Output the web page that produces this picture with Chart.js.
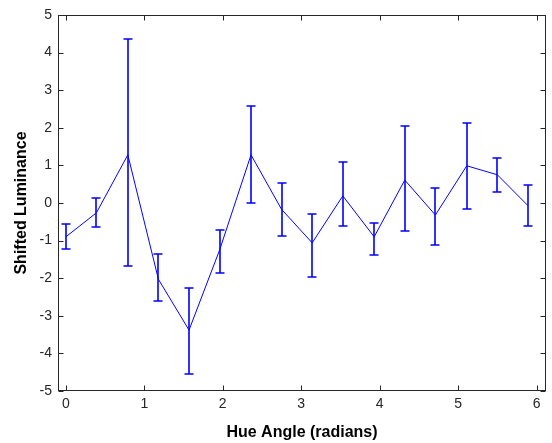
<!DOCTYPE html>
<html>
<head>
<meta charset="utf-8">
<script src="https://cdn.jsdelivr.net/npm/chart.js@4/dist/chart.umd.min.js"></script>
<style>
html,body{margin:0;padding:0;background:#fff;}
#wrap{width:552px;height:443px;}
</style>
</head>
<body>
<div id="wrap"><canvas id="c" width="552" height="443"></canvas></div>
<script>
// Data
const hueAngles = [0, 0.39, 0.79, 1.18, 1.57, 1.96, 2.36, 2.75, 3.14, 3.53, 3.93, 4.32, 4.71, 5.11, 5.50, 5.89];
const meanLum   = [-0.90, -0.26, 1.28, -2.03, -3.38, -1.25, 1.28, -0.17, -1.06, 0.19, -0.90, 0.61, -0.32, 0.99, 0.75, -0.07];
const upperLum  = [-0.56, 0.14, 4.37, -1.35, -2.26, -0.72, 2.58, 0.52, -0.30, 1.08, -0.52, 2.05, 0.41, 2.14, 1.21, 0.47];
const lowerLum  = [-1.23, -0.65, -1.67, -2.61, -4.55, -1.87, 0.01, -0.88, -1.96, -0.60, -1.38, -0.74, -1.11, -0.15, 0.29, -0.61];
const xTicks = [0, 1, 2, 3, 4, 5, 6];
const yTicks = [-5, -4, -3, -2, -1, 0, 1, 2, 3, 4, 5];

const points = hueAngles.map((x, i) => ({x: x, y: meanLum[i]}));

const errorBars = {
  id: 'errorBars',
  afterDatasetsDraw(chart) {
    const ctx = chart.ctx, xs = chart.scales.x, ys = chart.scales.y;
    ctx.save();
    ctx.strokeStyle = '#0000ff';
    ctx.lineWidth = 1.6;
    const cap = 4.5;
    hueAngles.forEach((x, i) => {
      const px = Math.round(xs.getPixelForValue(x));
      const pu = Math.round(ys.getPixelForValue(upperLum[i]));
      const pl = Math.round(ys.getPixelForValue(lowerLum[i]));
      ctx.beginPath();
      ctx.moveTo(px, pu); ctx.lineTo(px, pl);
      ctx.moveTo(px - cap, pu); ctx.lineTo(px + cap, pu);
      ctx.moveTo(px - cap, pl); ctx.lineTo(px + cap, pl);
      ctx.stroke();
    });
    ctx.restore();
  }
};

const frame = {
  id: 'frame',
  afterDraw(chart) {
    const ctx = chart.ctx, a = chart.chartArea, xs = chart.scales.x, ys = chart.scales.y;
    ctx.save();
    ctx.strokeStyle = '#262626';
    ctx.lineWidth = 1;
    const l = Math.round(a.left) + 0.5, r = Math.round(a.right) - 0.5;
    const t = Math.round(a.top) + 0.5, b = Math.round(a.bottom) - 0.5;
    ctx.strokeRect(l, t, r - l, b - t);
    const tl = 5;
    ctx.beginPath();
    xTicks.forEach(v => {
      const px = Math.round(xs.getPixelForValue(v)) + 0.5;
      ctx.moveTo(px, b); ctx.lineTo(px, b - tl);
      ctx.moveTo(px, t); ctx.lineTo(px, t + tl);
    });
    yTicks.forEach(v => {
      const py = Math.round(ys.getPixelForValue(v)) + 0.5;
      ctx.moveTo(l, py); ctx.lineTo(l + tl, py);
      ctx.moveTo(r, py); ctx.lineTo(r - tl, py);
    });
    ctx.stroke();
    ctx.restore();
  }
};

new Chart(document.getElementById('c'), {
  type: 'line',
  data: {
    datasets: [{
      data: points,
      borderColor: '#0000ff',
      borderWidth: 1,
      pointRadius: 0,
      tension: 0,
      fill: false
    }]
  },
  options: {
    responsive: false,
    animation: false,
    devicePixelRatio: 1,
    layout: {padding: {top: 15, right: 6, left: 0, bottom: 0}},
    plugins: {legend: {display: false}, tooltip: {enabled: false}},
    scales: {
      x: {
        type: 'linear',
        min: -0.1,
        max: 6.12,
        afterBuildTicks: s => { s.ticks = xTicks.map(v => ({value: v})); },
        afterFit: s => { s.height = 52; },
        grid: {display: false, drawTicks: false},
        border: {display: false},
        ticks: {color: '#262626', padding: 5, font: {family: 'Liberation Sans, Arial, sans-serif', size: 14}, maxRotation: 0},
        title: {display: true, text: 'Hue Angle (radians)', color: '#000', padding: {top: 2, bottom: 1},
          font: {family: 'Liberation Sans, Arial, sans-serif', size: 16, weight: 'bold'}}
      },
      y: {
        type: 'linear',
        min: -5,
        max: 5,
        afterBuildTicks: s => { s.ticks = yTicks.map(v => ({value: v})); },
        afterFit: s => { s.width = 58; },
        grid: {display: false, drawTicks: false},
        border: {display: false},
        ticks: {color: '#262626', padding: 6, font: {family: 'Liberation Sans, Arial, sans-serif', size: 14}},
        title: {display: true, text: 'Shifted Luminance', color: '#000', padding: {top: 12, bottom: 0},
          font: {family: 'Liberation Sans, Arial, sans-serif', size: 16, weight: 'bold'}}
      }
    }
  },
  plugins: [errorBars, frame]
});
</script>
</body>
</html>
